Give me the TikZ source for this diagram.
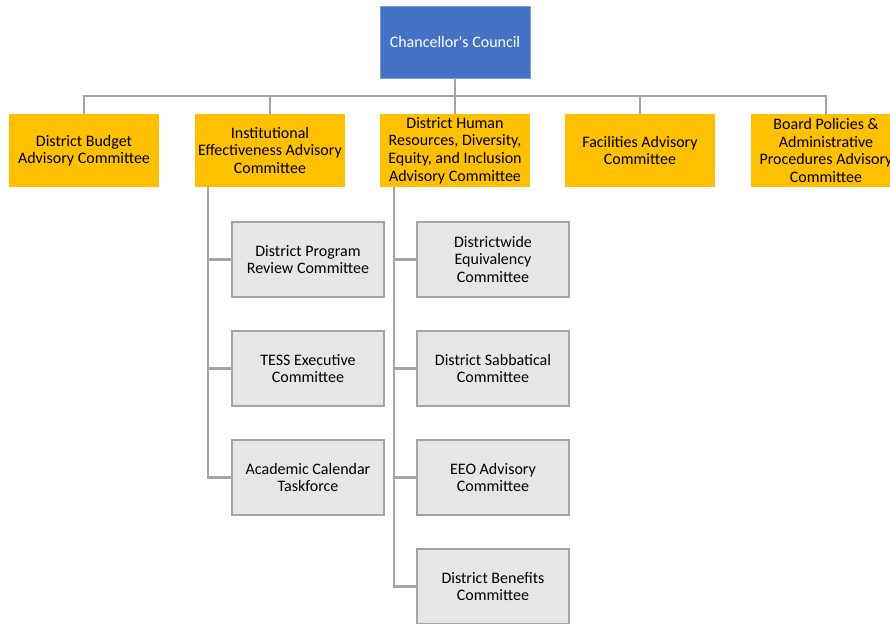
\documentclass[tikz,border=0pt]{standalone}
\usepackage{fontspec}
\setmainfont{Carlito}
\definecolor{cblue}{HTML}{4472C4}
\definecolor{corange}{HTML}{FFC000}
\definecolor{cgreyfill}{HTML}{E7E6E6}
\definecolor{cline}{HTML}{A5A5A5}
\begin{document}
\begin{tikzpicture}[x=1pt,y=1pt,
  every node/.style={font=\fontsize{16}{17.7}\selectfont, align=center, inner sep=0pt, outer sep=0pt},
  topbox/.style={fill=cblue, draw=cblue!70!white, line width=0.8pt, text=white, minimum width=150pt, minimum height=72pt},
  orbox/.style={fill=corange, minimum width=150pt, minimum height=73pt},
  greybox/.style={fill=cgreyfill, draw=cline, line width=2.8pt, minimum width=152pt, minimum height=75pt},
  conn/.style={draw=cline, line width=2.8pt}]
\clip (0,0) rectangle (890,-623);
\fill[white] (0,0) rectangle (890,-623);
% top
\node[topbox] (cc) at (455,-42) {Chancellor\textquotesingle s Council};
% level 1
\node[orbox] (b1) at (84,-150.5) {\raisebox{-1.5pt}{\shortstack{District Budget\\Advisory Committee}}};
\node[orbox] (b2) at (270,-150.5) {Institutional\\Effectiveness Advisory\\Committee};
\node[orbox] (b3) at (455,-150.5) {District Human\\Resources, Diversity,\\Equity, and Inclusion\\Advisory Committee};
\node[orbox] (b4) at (640,-150.5) {Facilities Advisory\\Committee};
\node[orbox] (b5) at (826,-150.5) {Board Policies \&\\Administrative\\Procedures Advisory\\Committee};
% left branch
\node[greybox] (c1) at (308,-259.5) {District Program\\Review Committee};
\node[greybox] (c2) at (308,-368.5) {TESS Executive\\Committee};
\node[greybox] (c3) at (308,-477.5) {Academic Calendar\\Taskforce};
% middle branch
\node[greybox] (d1) at (493,-259.5) {Districtwide\\Equivalency\\Committee};
\node[greybox] (d2) at (493,-368.5) {District Sabbatical\\Committee};
\node[greybox] (d3) at (493,-477.5) {EEO Advisory\\Committee};
\node[greybox] (d4) at (493,-586.5) {District Benefits\\Committee};
% connectors
\draw[conn] (cc.south) -- (b3.north);
\draw[conn] (b1.north) -- ++(0,18) -| (b5.north);
\draw[conn] (b2.north) -- ++(0,18);
\draw[conn] (b4.north) -- ++(0,18);
\coordinate (lb) at ([xshift=13pt]b2.south west);
\coordinate (mb) at ([xshift=14pt]b3.south west);
\foreach \c in {c1,c2,c3} \draw[conn] (lb) |- (\c.west);
\foreach \d in {d1,d2,d3,d4} \draw[conn] (mb) |- (\d.west);
\end{tikzpicture}
\end{document}
